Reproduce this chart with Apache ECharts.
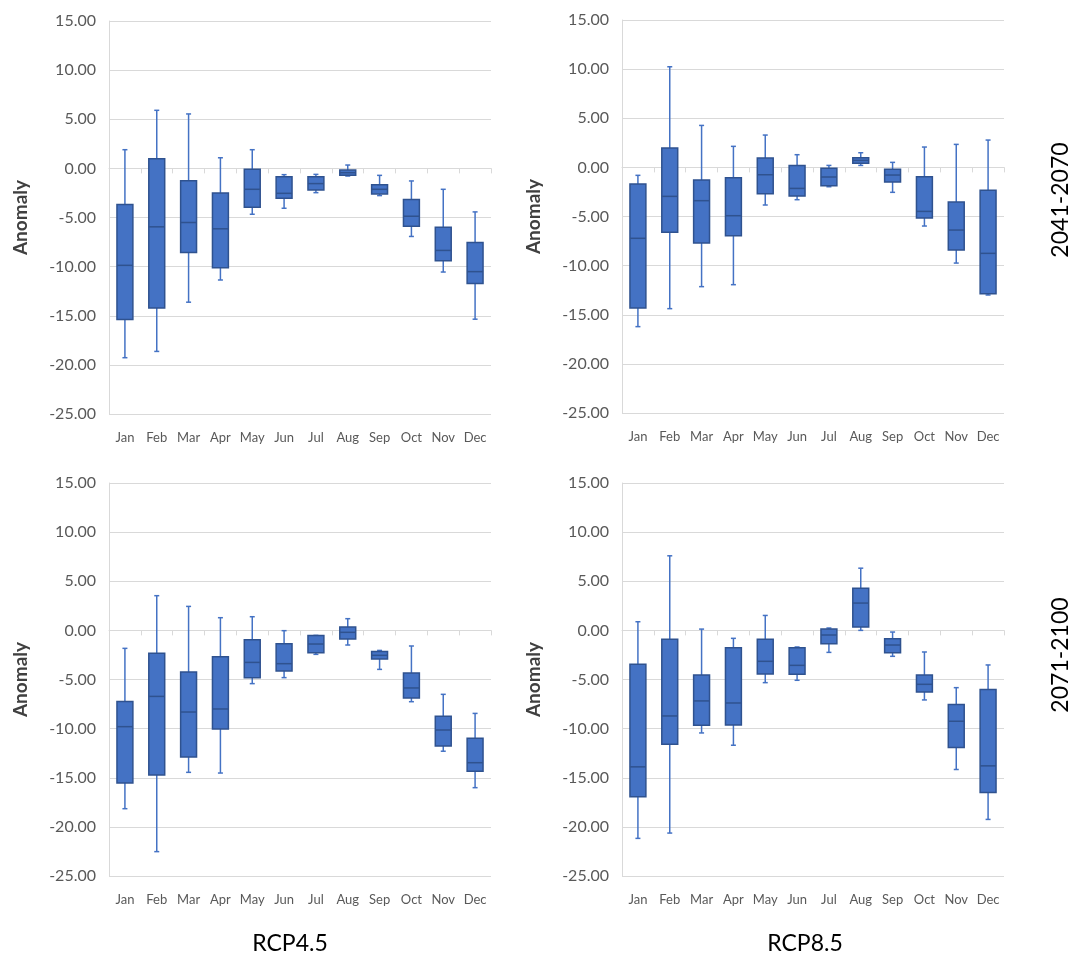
<!DOCTYPE html>
<html>
<head>
<meta charset="utf-8">
<script src="https://cdn.jsdelivr.net/npm/echarts@6/dist/echarts.min.js"></script>
<style>html,body{margin:0;padding:0;background:#fff}#c{width:1075px;height:956px}</style>
</head>
<body>
<div id="c"></div>
<script>
// Categories and tick labels
const months = ['Jan','Feb','Mar','Apr','May','Jun','Jul','Aug','Sep','Oct','Nov','Dec'];
const yTicks = [-25, -20, -15, -10, -5, 0, 5, 10, 15];
const rowLabels = ['2041-2070', '2071-2100'];
const colLabels = ['RCP4.5', 'RCP8.5'];

// Each entry: [min, Q1, median, Q3, max]
const rcp45_2041 = [
  [-19.27, -15.38, -9.87, -3.68, 1.90],
  [-18.63, -14.20, -5.95, 0.98, 5.91],
  [-13.62, -8.55, -5.51, -1.25, 5.54],
  [-11.36, -10.11, -6.15, -2.50, 1.08],
  [-4.67, -3.96, -2.13, -0.10, 1.90],
  [-4.06, -3.04, -2.54, -0.84, -0.64],
  [-2.47, -2.20, -1.55, -0.84, -0.61],
  [-0.78, -0.71, -0.44, -0.17, 0.34],
  [-2.77, -2.60, -2.13, -1.66, -0.71],
  [-6.93, -5.88, -4.87, -3.18, -1.28],
  [-10.55, -9.40, -8.35, -5.98, -2.13],
  [-15.35, -11.73, -10.51, -7.54, -4.43]
];
const rcp85_2041 = [
  [-16.21, -14.31, -7.22, -1.70, -0.81],
  [-14.38, -6.61, -2.95, 1.96, 10.24],
  [-12.14, -7.70, -3.39, -1.29, 4.27],
  [-11.94, -6.95, -4.92, -1.05, 2.14],
  [-3.83, -2.68, -0.75, 0.95, 3.29],
  [-3.29, -2.92, -2.14, 0.20, 1.29],
  [-1.97, -1.86, -0.98, -0.10, 0.20],
  [0.20, 0.41, 0.71, 0.98, 1.49],
  [-2.54, -1.49, -0.78, -0.20, 0.51],
  [-5.97, -5.15, -4.48, -0.95, 2.07],
  [-9.74, -8.41, -6.38, -3.53, 2.34],
  [-12.99, -12.85, -8.75, -2.34, 2.78]
];
const rcp45_2071 = [
  [-18.15, -15.53, -9.80, -7.23, -1.83],
  [-22.52, -14.72, -6.72, -2.34, 3.53],
  [-14.45, -12.89, -8.31, -4.24, 2.44],
  [-14.52, -10.04, -8.00, -2.68, 1.29],
  [-5.42, -4.81, -3.26, -0.95, 1.39],
  [-4.81, -4.13, -3.39, -1.35, -0.03],
  [-2.44, -2.27, -1.39, -0.51, -0.51],
  [-1.49, -0.88, -0.20, 0.34, 1.19],
  [-3.97, -2.91, -2.54, -2.14, -2.04],
  [-7.26, -6.88, -5.86, -4.34, -1.59],
  [-12.30, -11.77, -10.14, -8.75, -6.51],
  [-16.01, -14.35, -13.47, -10.99, -8.45]
];
const rcp85_2071 = [
  [-21.17, -16.94, -13.89, -3.46, 0.88],
  [-20.63, -11.59, -8.71, -0.91, 7.59],
  [-10.44, -9.65, -7.18, -4.54, 0.13],
  [-11.69, -9.62, -7.39, -1.76, -0.81],
  [-5.32, -4.44, -3.15, -0.91, 1.52],
  [-5.08, -4.47, -3.56, -1.76, -1.69],
  [-2.24, -1.35, -0.47, 0.13, 0.24],
  [0.00, 0.34, 2.78, 4.30, 6.33],
  [-2.64, -2.27, -1.49, -0.84, -0.17],
  [-7.08, -6.27, -5.49, -4.54, -2.20],
  [-14.16, -11.92, -9.25, -7.55, -5.83],
  [-19.24, -16.49, -13.79, -6.03, -3.52]
];

const panels = [rcp45_2041, rcp85_2041, rcp45_2071, rcp85_2071];
const gridPos = [
  {left: 109, top: 21, width: 382, height: 393},
  {left: 622, top: 20, width: 382, height: 393},
  {left: 109, top: 483, width: 382, height: 393},
  {left: 622, top: 483, width: 382, height: 393}
];

const FONT = 'Lato';
const fill = '#4472C4', dark = '#2F528F';

function renderBox(params, api) {
  const i = api.value(0);
  const mn = api.coord([i, api.value(1)]);
  const q1 = api.coord([i, api.value(2)]);
  const md = api.coord([i, api.value(3)]);
  const q3 = api.coord([i, api.value(4)]);
  const mx = api.coord([i, api.value(5)]);
  const bw = api.size([1, 0])[0] * 0.5;
  const x = mn[0];
  const cap = 2.5;
  const ls = {stroke: fill, lineWidth: 1.5};
  return {
    type: 'group',
    children: [
      {type: 'line', shape: {x1: x, y1: mx[1], x2: x, y2: q3[1]}, style: ls},
      {type: 'line', shape: {x1: x, y1: q1[1], x2: x, y2: mn[1]}, style: ls},
      {type: 'line', shape: {x1: x - cap, y1: mx[1], x2: x + cap, y2: mx[1]}, style: ls},
      {type: 'line', shape: {x1: x - cap, y1: mn[1], x2: x + cap, y2: mn[1]}, style: ls},
      {type: 'rect', shape: {x: x - bw / 2, y: q3[1], width: bw, height: q1[1] - q3[1]},
        style: {fill: fill, stroke: dark, lineWidth: 1.5}},
      {type: 'line', shape: {x1: x - bw / 2, y1: md[1], x2: x + bw / 2, y2: md[1]},
        style: {stroke: dark, lineWidth: 1.5}}
    ]
  };
}

const grids = [], xAxes = [], yAxes = [], series = [];
panels.forEach((p, k) => {
  grids.push(gridPos[k]);
  xAxes.push({
    type: 'category', gridIndex: k, data: months, boundaryGap: true,
    axisLine: {lineStyle: {color: '#D9D9D9', width: 1}},
    axisTick: {show: true, length: 5, interval: 0, lineStyle: {color: '#D9D9D9'}},
    axisLabel: {color: '#595959', fontFamily: FONT, fontSize: 13, margin: 17, interval: 0, hideOverlap: false}
  });
  yAxes.push({
    type: 'value', gridIndex: k, min: yTicks[0], max: yTicks[yTicks.length - 1], interval: 5,
    name: 'Anomaly', nameLocation: 'middle', nameGap: 79, nameRotate: 90,
    nameTextStyle: {color: '#404040', fontFamily: FONT, fontSize: 19, fontWeight: 'bold'},
    axisLine: {show: true, lineStyle: {color: '#D9D9D9', width: 1}},
    axisTick: {show: false},
    splitLine: {lineStyle: {color: '#D9D9D9', width: 1}},
    axisLabel: {color: '#595959', fontFamily: FONT, fontSize: 16, margin: 13,
      formatter: v => v.toFixed(2)}
  });
  series.push({
    type: 'custom', xAxisIndex: k, yAxisIndex: k,
    renderItem: renderBox,
    encode: {x: 0, y: [1, 2, 3, 4, 5]},
    data: p.map((d, i) => [i].concat(d)),
    silent: true
  });
});

const chart = echarts.init(document.getElementById('c'));
chart.setOption({
  animation: false,
  backgroundColor: '#fff',
  grid: grids, xAxis: xAxes, yAxis: yAxes, series: series,
  graphic: [
    {type: 'text', x: 1061, y: 200, rotation: Math.PI / 2,
      style: {text: rowLabels[0], fontFamily: FONT, fontSize: 23, fill: '#000', align: 'center', verticalAlign: 'middle'}},
    {type: 'text', x: 1061, y: 655, rotation: Math.PI / 2,
      style: {text: rowLabels[1], fontFamily: FONT, fontSize: 23, fill: '#000', align: 'center', verticalAlign: 'middle'}},
    {type: 'text', x: 290, y: 944,
      style: {text: colLabels[0], fontFamily: FONT, fontSize: 23, fill: '#000', align: 'center', verticalAlign: 'middle'}},
    {type: 'text', x: 805, y: 944,
      style: {text: colLabels[1], fontFamily: FONT, fontSize: 23, fill: '#000', align: 'center', verticalAlign: 'middle'}}
  ]
});
</script>
</body>
</html>
